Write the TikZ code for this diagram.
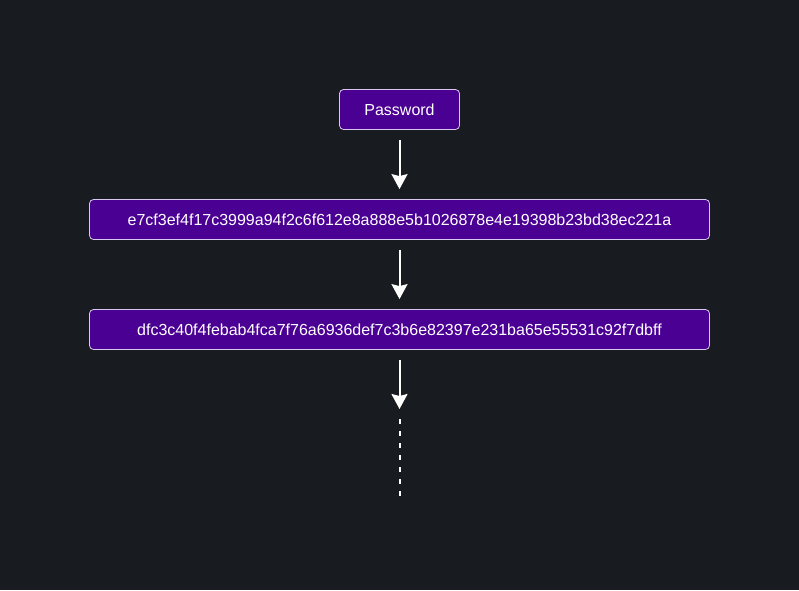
\documentclass[tikz,border=0pt]{standalone}
\usepackage{fontspec}
\setmainfont{Liberation Sans}
\usetikzlibrary{arrows.meta}
\definecolor{bg}{HTML}{181B20}
\definecolor{boxfill}{HTML}{4B0094}
\definecolor{boxline}{HTML}{D8C8F0}
\begin{document}
\begin{tikzpicture}[x=1pt,y=-1pt,
  hashbox/.style={draw=boxline, fill=boxfill, rounded corners=4pt, line width=0.8pt,
    text=white, font=\fontsize{16pt}{19pt}\selectfont, inner sep=0pt, anchor=center},
  flow/.style={draw=white, line width=2pt, -{Stealth[width=16pt,length=15pt,inset=2pt]}},
  cont/.style={draw=white, line width=2pt, dash pattern=on 5pt off 7pt}]
\fill[bg] (0,0) rectangle (799,590);
\useasboundingbox (0,0) rectangle (799,590);
\node[hashbox, minimum width=120pt, minimum height=40pt] (pw) at (399.5,109.5) {Password};
\node[hashbox, minimum width=620pt, minimum height=40pt] (h1) at (399.5,219.5) {e7cf3ef4f17c3999a94f2c6f612e8a888e5b1026878e4e19398b23bd38ec221a};
\node[hashbox, minimum width=620pt, minimum height=40pt] (h2) at (399.5,329.5) {dfc3c40f4febab4fca7f76a6936def7c3b6e82397e231ba65e55531c92f7dbff};
\coordinate (c1) at (399.5,409);
\coordinate (c2) at (399.5,497);
\draw[flow, shorten <=10pt, shorten >=10pt] (pw) -- (h1);
\draw[flow, shorten <=10pt, shorten >=10pt] (h1) -- (h2);
\draw[flow, shorten <=10pt] (h2) -- (c1);
\draw[cont, shorten <=10pt] (c1) -- (c2);
\end{tikzpicture}
\end{document}
